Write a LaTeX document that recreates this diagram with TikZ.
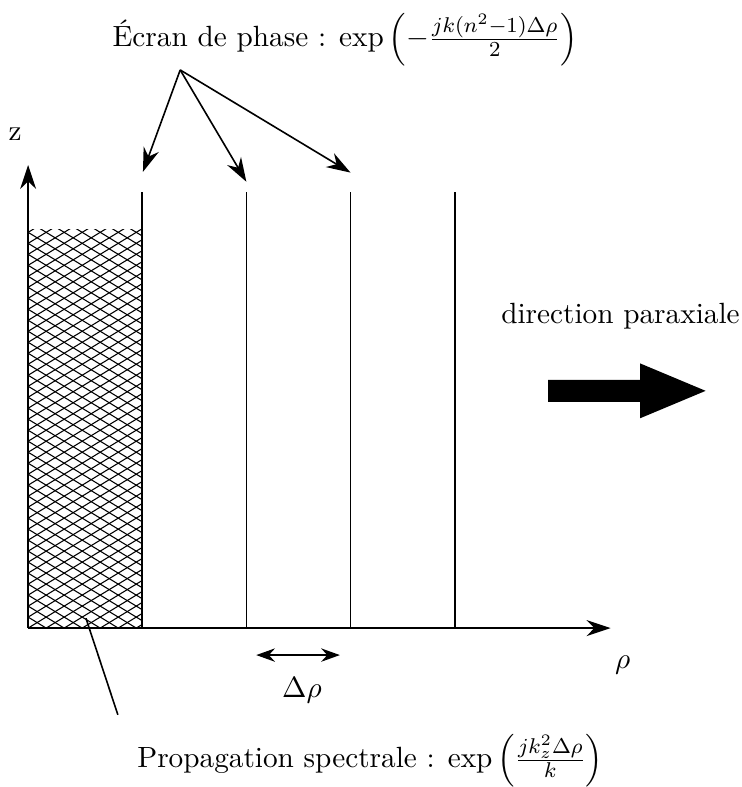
\documentclass[tikz,border=0pt,11pt]{standalone}
\usepackage{fontspec}
\usepackage{amsmath}
\usetikzlibrary{arrows.meta}
\begin{document}
\begin{tikzpicture}[>={Stealth[length=9pt,width=6pt]}, line/.style={semithick}]
\useasboundingbox (-0.37,-2.09) rectangle (9.38,8.26);
% hatched block
\begin{scope}
\clip (0,0) rectangle (1.5,5.24);
\foreach \i in {-40,...,10} \draw[line width=0.4pt] (\i*0.237,0) -- ++(10,6.1);
\foreach \i in {0,...,50} \draw[line width=0.4pt] (\i*0.237,0) -- ++(-10,6.1);
\end{scope}
% axes
\coordinate (o) at (0,0);
\coordinate (ztop) at (0,6.09);
\coordinate (rend) at (7.66,0);
\draw[->, line] (o) -- (ztop);
\draw[->, line] (o) -- (rend);
\node (z) at (-0.17,6.49) {z};
\node (rho) at (7.82,-0.49) {$\rho$};
% screens
\foreach \x/\n in {1.5/s1, 2.87/s2, 4.24/s3, 5.61/s4} {
  \coordinate (\n) at (\x,5.74);
  \draw[line] (\x,0) -- (\n);
}
% phase screen label
\node (ecran) at (4.17,7.74) {Écran de phase : $\exp\left(-\frac{jk(n^2-1)\Delta\rho}{2}\right)$};
\coordinate (src) at (2.0,7.34);
\coordinate (t1) at (1.51,6.0);
\coordinate (t2) at (2.87,5.87);
\coordinate (t3) at (4.24,5.99);
\foreach \t in {t1,t2,t3}
  \draw[->, line] (src) -- (\t);
% step
\coordinate (d1) at (3.0,-0.355);
\coordinate (d2) at (4.1,-0.355);
\draw[<->, >={Stealth[length=7pt,width=5pt]}, line] (d1) -- (d2);
\node (drho) at (3.6,-0.82) {$\Delta\rho$};
% spectral propagation label
\node (prop) at (4.5,-1.74) {Propagation spectrale : $\exp\left(\frac{jk_z^2\Delta\rho}{k}\right)$};
\coordinate (p1) at (0.76,0.13);
\coordinate (p2) at (1.18,-1.14);
\draw[line] (p1) -- (p2);
% paraxial direction
\node (dir) at (7.79,4.1) {direction paraxiale};
\fill (6.84,2.975) -- (8.05,2.975) -- (8.05,2.76) -- (8.91,3.12) -- (8.05,3.48) -- (8.05,3.265) -- (6.84,3.265) -- cycle;
\end{tikzpicture}
\end{document}
